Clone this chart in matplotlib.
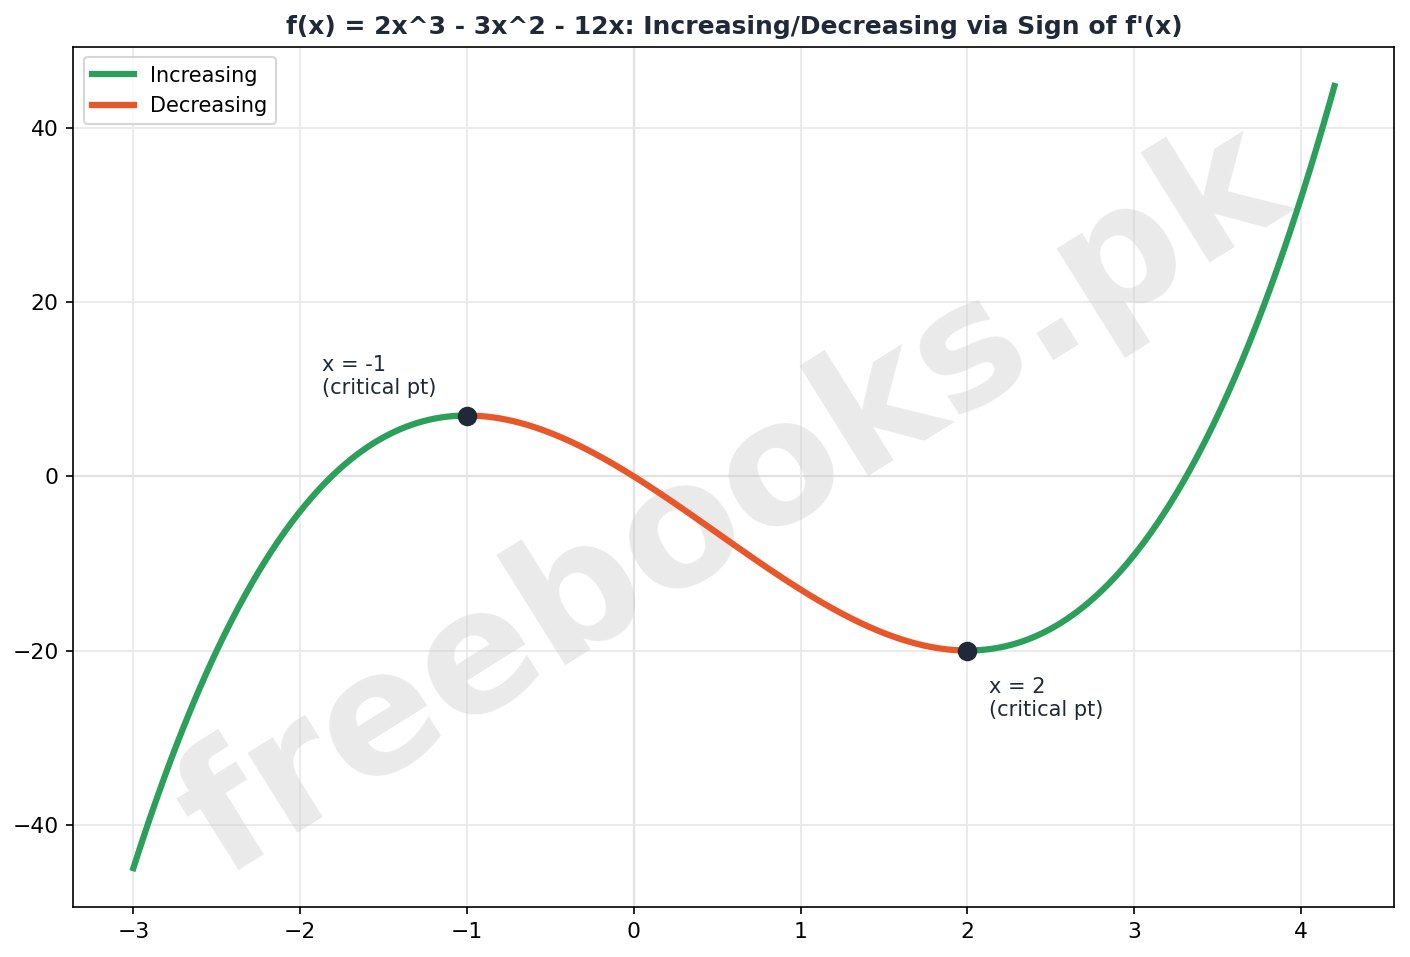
import numpy as np
import matplotlib
matplotlib.use("Agg")
import matplotlib.pyplot as plt

coeffs = [2, -3, -12, 0]          # f(x) = 2x^3 - 3x^2 - 12x
x_start, x_end = -3.0, 4.2
crit_x = [-1, 2]
crit_labels = ["x = -1\n(critical pt)", "x = 2\n(critical pt)"]

fig = plt.figure(figsize=(9.4, 6.38), dpi=150)
ax = fig.add_axes([0.052, 0.052, 0.937, 0.899])

green = "#2ca05a"
orange = "#e8572a"

def seg(a, b):
    xs = np.linspace(a, b, 300)
    return xs, np.polyval(coeffs, xs)

ax.axhline(0, color="#c8c8c8", lw=1, zorder=1)
ax.axvline(0, color="#c8c8c8", lw=1, zorder=1)
ax.grid(True, color="#e8e8e8", lw=0.8, zorder=0)

xs, ys = seg(x_start, crit_x[0]); ax.plot(xs, ys, color=green, lw=3, label="Increasing", zorder=3)
xs, ys = seg(crit_x[0], crit_x[1]); ax.plot(xs, ys, color=orange, lw=3, label="Decreasing", zorder=3)
xs, ys = seg(crit_x[1], x_end); ax.plot(xs, ys, color=green, lw=3, zorder=3)

cy = np.polyval(coeffs, np.array(crit_x))
ax.scatter(crit_x, cy, s=70, color="#1f2937", zorder=5)
ax.text(crit_x[0] - 0.87, cy[0] + 2, crit_labels[0], fontsize=10, color="#1f2937", va="bottom")
ax.text(crit_x[1] + 0.13, cy[1] - 3, crit_labels[1], fontsize=10, color="#1f2937", va="top")

ax.text(0.5, 0.47, "freebooks.pk", transform=ax.transAxes, fontsize=82, fontweight="bold",
        color="#cccccc", alpha=0.4, rotation=32, ha="center", va="center", zorder=2)

ax.set_title("f(x) = 2x^3 - 3x^2 - 12x: Increasing/Decreasing via Sign of f'(x)",
             fontsize=12, fontweight="bold", color="#1f2937")
ax.legend(loc="upper left", fontsize=10)
ax.tick_params(labelsize=10.5)
fig.savefig("out.png", dpi=150)
